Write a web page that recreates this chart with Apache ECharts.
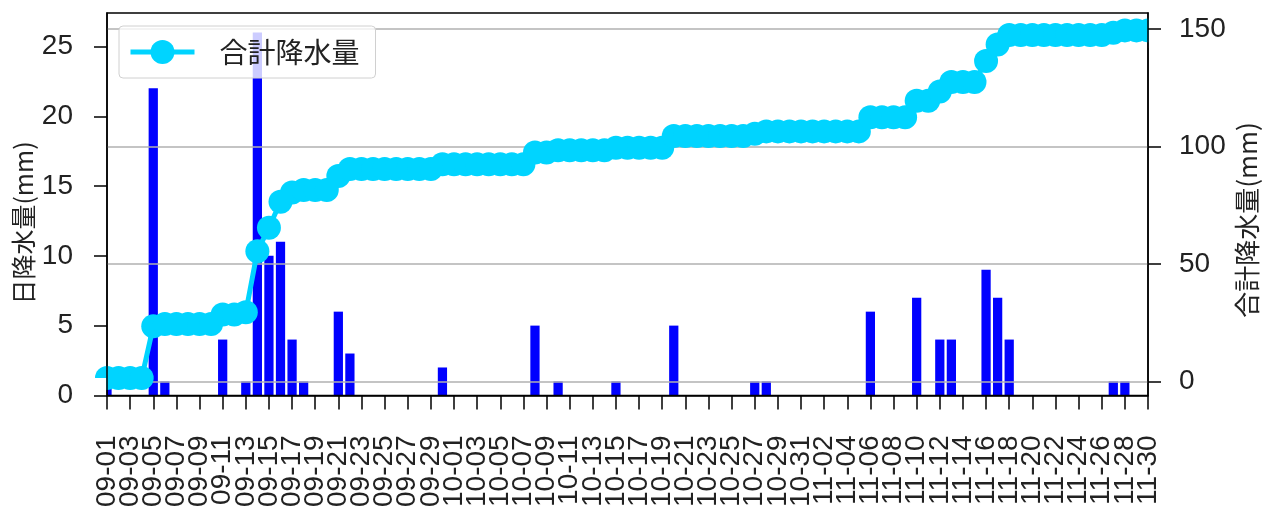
<!DOCTYPE html>
<html>
<head>
<meta charset="utf-8">
<script src="https://cdn.jsdelivr.net/npm/echarts@6/dist/echarts.min.js"></script>
<style>
  html, body { margin: 0; padding: 0; background: #fff; }
  #main { width: 1269px; height: 510px; }
</style>
</head>
<body>
<div id="main"></div>
<script>
// 日付 (9/1 〜 11/30)
var dates = [
  '09-01','09-02','09-03','09-04','09-05','09-06','09-07','09-08','09-09','09-10',
  '09-11','09-12','09-13','09-14','09-15','09-16','09-17','09-18','09-19','09-20',
  '09-21','09-22','09-23','09-24','09-25','09-26','09-27','09-28','09-29','09-30',
  '10-01','10-02','10-03','10-04','10-05','10-06','10-07','10-08','10-09','10-10',
  '10-11','10-12','10-13','10-14','10-15','10-16','10-17','10-18','10-19','10-20',
  '10-21','10-22','10-23','10-24','10-25','10-26','10-27','10-28','10-29','10-30','10-31',
  '11-01','11-02','11-03','11-04','11-05','11-06','11-07','11-08','11-09','11-10',
  '11-11','11-12','11-13','11-14','11-15','11-16','11-17','11-18','11-19','11-20',
  '11-21','11-22','11-23','11-24','11-25','11-26','11-27','11-28','11-29','11-30'
]

// 日降水量 (mm)
var dailyRain = [
  1.5, 0, 0, 0, 22, 1, 0, 0, 0, 0,
  4, 0, 1, 26, 10, 11, 4, 1, 0, 0,
  6, 3, 0, 0, 0, 0, 0, 0, 0, 2,
  0, 0, 0, 0, 0, 0, 0, 5, 0, 1,
  0, 0, 0, 0, 1, 0, 0, 0, 0, 5,
  0, 0, 0, 0, 0, 0, 1, 1, 0, 0,
  0, 0, 0, 0, 0, 0, 6, 0, 0, 0,
  7, 0, 4, 4, 0, 0, 9, 7, 4, 0,
  0, 0, 0, 0, 0, 0, 0, 1, 1, 0,
  0
]

// 合計降水量 (mm)
var totalRain = [
  1.5, 1.5, 1.5, 1.5, 23.5, 24.5, 24.5, 24.5, 24.5, 24.5,
  28.5, 28.5, 29.5, 55.5, 65.5, 76.5, 80.5, 81.5, 81.5, 81.5,
  87.5, 90.5, 90.5, 90.5, 90.5, 90.5, 90.5, 90.5, 90.5, 92.5,
  92.5, 92.5, 92.5, 92.5, 92.5, 92.5, 92.5, 97.5, 97.5, 98.5,
  98.5, 98.5, 98.5, 98.5, 99.5, 99.5, 99.5, 99.5, 99.5, 104.5,
  104.5, 104.5, 104.5, 104.5, 104.5, 104.5, 105.5, 106.5, 106.5, 106.5,
  106.5, 106.5, 106.5, 106.5, 106.5, 106.5, 112.5, 112.5, 112.5, 112.5,
  119.5, 119.5, 123.5, 127.5, 127.5, 127.5, 136.5, 143.5, 147.5, 147.5,
  147.5, 147.5, 147.5, 147.5, 147.5, 147.5, 147.5, 148.5, 149.5, 149.5,
  149.5
]

// 目盛り
var leftTicks = [0, 5, 10, 15, 20, 25]
var rightTicks = [0, 50, 100, 150]

var numFont = "'Liberation Sans', 'Noto Sans CJK JP', sans-serif"
var jpFont = "'Noto Sans CJK JP', sans-serif"

var myChart = echarts.init(document.getElementById('main'))

var rightMin = -5.9
var rightMax = 156.9

var option = {
  animation: false,
  grid: {
    left: 107,
    right: 121,
    top: 13,
    bottom: 96,
    show: true,
    borderColor: '#000',
    borderWidth: 1.5
  },
  legend: {
    data: ['合計降水量'],
    left: 119,
    top: 26,
    padding: [12, 16, 12, 9],
    itemWidth: 64,
    itemHeight: 30,
    backgroundColor: 'rgba(255,255,255,0.8)',
    borderColor: '#d0d0d0',
    borderWidth: 1,
    borderRadius: 4,
    lineStyle: { width: 5 },
    textStyle: { fontFamily: jpFont, fontSize: 28, color: '#222', padding: [0, 0, 0, 20] }
  },
  graphic: [
    // はみ出したマーカーを隠す
    { type: 'rect', z: 5, silent: true, shape: { x: 82, y: 378, width: 24.3, height: 33 }, style: { fill: '#fff' } },
    { type: 'rect', z: 5, silent: true, shape: { x: 1148.8, y: 14, width: 24, height: 34 }, style: { fill: '#fff' } },
    // 軸タイトル
    {
      type: 'text', z: 10, silent: true, x: 23, y: 223, rotation: Math.PI / 2,
      style: { text: '日降水量(mm)', font: "25px 'Noto Sans CJK JP', sans-serif", fill: '#222', align: 'center', verticalAlign: 'middle' }
    },
    {
      type: 'text', z: 10, silent: true, x: 1247, y: 220, rotation: Math.PI / 2,
      style: { text: '合計降水量(mm)', font: "26px 'Noto Sans CJK JP', sans-serif", fill: '#222', align: 'center', verticalAlign: 'middle' }
    }
  ],
  xAxis: {
    type: 'category',
    data: dates,
    boundaryGap: false,
    z: 10,
    axisLine: { lineStyle: { color: '#000', width: 1.5 } },
    axisTick: { interval: 1, length: 14, lineStyle: { color: '#000', width: 1.5 } },
    axisLabel: {
      // 1日おきに表示
      interval: 0,
      formatter: function (value, index) {
        return index % 2 === 0 ? value : ''
      },
      rotate: 90,
      margin: 40,
      fontFamily: numFont,
      fontSize: 28,
      color: '#222'
    },
    splitLine: { show: false }
  },
  yAxis: [
    {
      type: 'value',
      min: 0,
      max: 27.4,
      z: 10,
      axisLine: { show: true, lineStyle: { color: '#000', width: 1.5 } },
      axisTick: { show: true, length: 13, customValues: leftTicks, lineStyle: { color: '#000', width: 1.5 } },
      axisLabel: { customValues: leftTicks, margin: 34, fontFamily: numFont, fontSize: 28, color: '#222' },
      splitLine: { show: false }
    },
    {
      // 格子線のみ
      type: 'value',
      min: rightMin,
      max: rightMax,
      position: 'right',
      z: 1,
      axisLine: { show: false },
      axisTick: { show: false, customValues: rightTicks },
      axisLabel: { show: false },
      splitLine: { show: true, lineStyle: { color: '#b0b0b0', width: 1.5 } }
    },
    {
      type: 'value',
      min: rightMin,
      max: rightMax,
      position: 'right',
      z: 10,
      axisLine: { show: true, lineStyle: { color: '#000', width: 1.5 } },
      axisTick: { show: true, length: 13, customValues: rightTicks, lineStyle: { color: '#000', width: 1.5 } },
      axisLabel: { customValues: rightTicks, margin: 31, fontFamily: numFont, fontSize: 28, color: '#222' },
      splitLine: { show: false }
    }
  ],
  series: [
    {
      name: '日降水量',
      type: 'bar',
      yAxisIndex: 0,
      data: dailyRain,
      barWidth: '80%',
      z: -1,
      itemStyle: { color: '#0000ff' }
    },
    {
      name: '合計降水量',
      type: 'line',
      yAxisIndex: 1,
      data: totalRain,
      symbol: 'circle',
      symbolSize: 24,
      showAllSymbol: true,
      z: 3,
      lineStyle: { color: '#00d4ff', width: 5 },
      itemStyle: { color: '#00d4ff' }
    }
  ]
}

myChart.setOption(option)
</script>
</body>
</html>
